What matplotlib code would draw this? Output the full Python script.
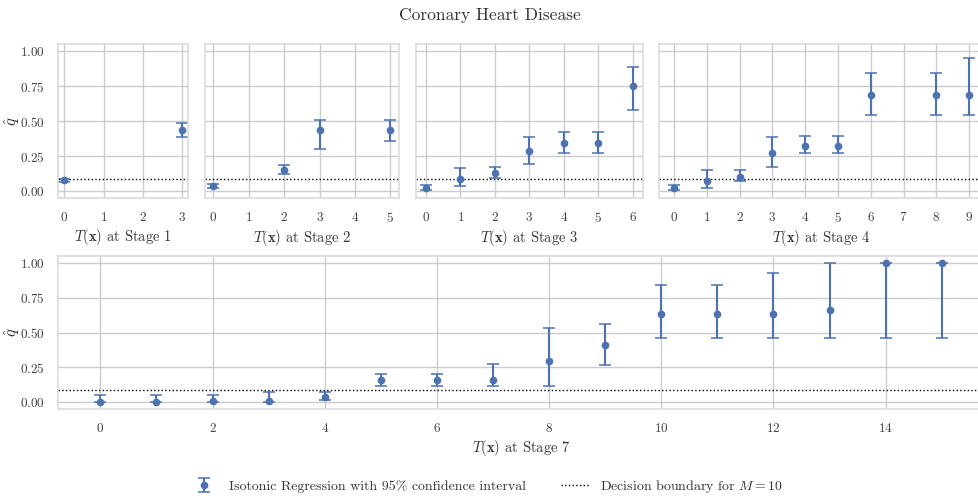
import matplotlib
matplotlib.use('Agg')
import matplotlib.pyplot as plt
import seaborn as sns
from matplotlib.lines import Line2D

M = 10
boundary = 1 / (M + 1)

stage1_x = [0, 3]
stage1_q = [0.08, 0.44]
stage1_lo = [0.065, 0.385]
stage1_hi = [0.09, 0.49]

stage2_x = [0, 2, 3, 5]
stage2_q = [0.035, 0.155, 0.44, 0.44]
stage2_lo = [0.02, 0.125, 0.305, 0.36]
stage2_hi = [0.05, 0.19, 0.51, 0.51]

stage3_x = [0, 1, 2, 3, 4, 5, 6]
stage3_q = [0.02, 0.085, 0.13, 0.285, 0.345, 0.345, 0.755]
stage3_lo = [0.01, 0.035, 0.095, 0.195, 0.27, 0.27, 0.58]
stage3_hi = [0.045, 0.165, 0.175, 0.39, 0.42, 0.42, 0.885]

stage4_x = [0, 1, 2, 3, 4, 5, 6, 8, 9]
stage4_q = [0.02, 0.07, 0.105, 0.27, 0.325, 0.325, 0.69, 0.69, 0.69]
stage4_lo = [0.01, 0.025, 0.07, 0.175, 0.27, 0.27, 0.545, 0.545, 0.545]
stage4_hi = [0.045, 0.155, 0.155, 0.39, 0.395, 0.395, 0.845, 0.845, 0.955]

stage7_x = list(range(16))
stage7_q = [0, 0, 0.012, 0.012, 0.035, 0.16, 0.16, 0.16, 0.295, 0.41,
            0.635, 0.635, 0.635, 0.665, 1.0, 1.0]
stage7_lo = [0, 0, 0, 0, 0.014, 0.12, 0.12, 0.12, 0.12, 0.27,
             0.465, 0.465, 0.465, 0.465, 0.465, 0.465]
stage7_hi = [0.052, 0.052, 0.052, 0.076, 0.076, 0.205, 0.205, 0.274, 0.533, 0.564,
             0.843, 0.843, 0.928, 1.0, 1.0, 1.0]

top_stages = [
    (1, stage1_x, stage1_q, stage1_lo, stage1_hi),
    (2, stage2_x, stage2_q, stage2_lo, stage2_hi),
    (3, stage3_x, stage3_q, stage3_lo, stage3_hi),
    (4, stage4_x, stage4_q, stage4_lo, stage4_hi),
]

sns.set_theme(style='whitegrid')
plt.rcParams['font.family'] = ['cmr10', 'DejaVu Serif']
plt.rcParams['mathtext.fontset'] = 'cm'
plt.rcParams['axes.formatter.use_mathtext'] = True
plt.rcParams['axes.unicode_minus'] = False

color = '#4C72B0'
W, H = 979, 498
fig = plt.figure(figsize=(W / 100, H / 100), dpi=100)

left_px = 58.3
right_px = 983.8
gs_top = fig.add_gridspec(1, 4, left=left_px / W, right=right_px / W,
                          top=1 - 44.3 / H, bottom=1 - 198.3 / H,
                          width_ratios=[4, 6, 7, 10], wspace=0.0753)
gs_bot = fig.add_gridspec(1, 1, left=left_px / W, right=right_px / W,
                          top=1 - 256 / H, bottom=1 - 409.3 / H)


def draw(ax, stage, x, q, lo, hi):
    err = [[a - b for a, b in zip(q, lo)], [b - a for a, b in zip(q, hi)]]
    eb = ax.errorbar(x, q, yerr=err, fmt='o', color=color, markersize=4.5,
                     capsize=4, elinewidth=1.5, capthick=1.1)
    ax.axhline(boundary, color='black', linestyle=':', linewidth=1)
    ax.set_ylim(-0.05, 1.05)
    ax.set_yticks([0, 0.25, 0.5, 0.75, 1.0])
    ax.set_xlabel(r'$T(\mathbf{x})$ at Stage %d' % stage, fontsize=10.5,
                  labelpad=2, color='.2')
    ax.tick_params(labelsize=9.5, pad=3.5, labelcolor='.25')
    for s in ax.spines.values():
        s.set_color('.85')
        s.set_linewidth(1.1)
    return eb


def add_ylabel(ypos):
    # q-hat label placed in figure pixels, centred at x = 12 px
    fig.text(12 / W, ypos, r'$\hat{q}$', fontsize=12, color='.2',
             rotation=90, ha='center', va='center')


first = None
for i, (stage, x, q, lo, hi) in enumerate(top_stages):
    ax = fig.add_subplot(gs_top[0, i], sharey=first)
    if first is None:
        first = ax
    eb = draw(ax, stage, x, q, lo, hi)
    ax.set_xticks(range(0, max(x) + 1))
    if i > 0:
        ax.tick_params(labelleft=False)

ax7 = fig.add_subplot(gs_bot[0, 0])
eb = draw(ax7, 7, stage7_x, stage7_q, stage7_lo, stage7_hi)

for ax in (first, ax7):
    p = ax.get_position()
    add_ylabel((p.y0 + p.y1) / 2)

fig.suptitle('Coronary Heart Disease', fontsize=12.5, y=0.985, color='.2')

handles = [eb, Line2D([], [], color='black', linestyle=':', linewidth=1)]
labels = ['Isotonic Regression with 95% confidence interval',
          r'Decision boundary for $M = 10$']
leg = fig.legend(handles, labels, loc='center', bbox_to_anchor=(0.497, 0.024),
                 ncol=2, frameon=False, fontsize=10, columnspacing=2.5)
for t in leg.get_texts():
    t.set_color('.2')

fig.savefig('out.png', dpi=100)
